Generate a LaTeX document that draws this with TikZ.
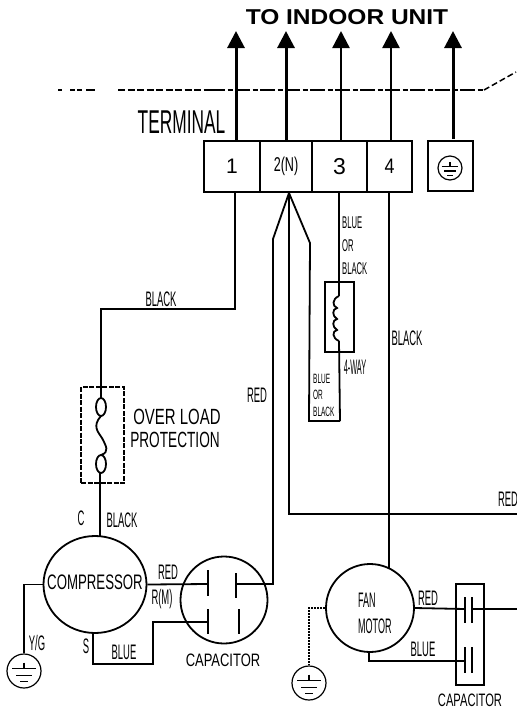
\documentclass[tikz,border=0pt]{standalone}
\usepackage{fontspec}
\usepackage{graphicx}
\setsansfont{Liberation Sans}
\usetikzlibrary{arrows.meta,shapes.geometric}

\newcommand{\tg}[1]{\scalebox{.45}[1]{#1}}
\newcommand{\nar}[2]{\scalebox{#1}[1]{#2}}
\newcommand{\earthmark}[2]{%
  \draw[shift={(#1)},scale=#2,line width=1.3pt] (0,-.5) -- (0,-.15)
    (-.7,-.15) -- (.7,-.15) (-.47,.25) -- (.47,.25) (-.22,.63) -- (.22,.63);}

\tikzset{
  wire/.style={line width=1.8pt},
  fatwire/.style={line width=3pt},
  plate/.style={line width=1.8pt},
  termbox/.style={draw,line width=1.8pt,minimum height=51pt,inner sep=0pt,font=\sffamily},
  earthring/.style={draw,circle,line width=1.2pt,inner sep=0pt},
  part/.style={draw,line width=1.8pt,inner sep=0pt},
  tag/.style={inner sep=0pt,font=\sffamily\fontsize{21}{23}\selectfont},
  tinytag/.style={inner sep=0pt,font=\sffamily\fontsize{13.5}{16.5}\selectfont,align=left,anchor=west},
  midtag/.style={inner sep=0pt,font=\sffamily\fontsize{17}{23}\selectfont,align=left,anchor=west},
  uptip/.style={-{Triangle[length=17pt,width=17pt]}},
}

\begin{document}
\begin{tikzpicture}[x=1pt,y=-1pt]
    \useasboundingbox (0,0) rectangle (517,713);
    \clip (0,0) rectangle (517,713);

    % terminal block and ground box
    \node[termbox,minimum width=56pt] (term1) at (232,166.5) {\fontsize{21}{21}\selectfont 1};
    \node[termbox,minimum width=52pt] (term2) at (286,166.5) {\fontsize{20}{20}\selectfont\nar{.63}{2(N)}};
    \node[termbox,minimum width=55pt] (term3) at (339.5,166.5) {\fontsize{23}{23}\selectfont 3};
    \node[termbox,minimum width=45pt] (term4) at (389.5,166.5) {\fontsize{21}{21}\selectfont\nar{.85}{4}};
    \node[termbox,minimum width=45pt,minimum height=50pt] (termg) at (450.5,166) {};
    \node[earthring,minimum size=24pt] (earthg) at (450,168) {};
    \earthmark{earthg}{12}

    % these are the parts
    \node[part,ellipse,minimum width=103pt,minimum height=97pt] (comp) at (95,584.5) {};
    \node[part,circle,minimum size=87pt] (cap1) at (224,600) {};
    \node[part,circle,minimum size=88pt] (fan) at (370,608) {};
    \node[part,minimum width=28pt,minimum height=101pt] (cap2) at (470,634.5) {};
    \node[part,minimum width=29pt,minimum height=70pt] (valve) at (339.5,317) {};
    \node[draw,dash pattern=on 5pt off 1.5pt,line width=1.4pt,minimum width=43pt,minimum height=96pt,inner sep=0pt] (olp) at (102.5,435) {};
    \node[earthring,minimum size=34pt] (earthc) at (24,671) {};
    \node[earthring,minimum size=34pt] (earthf) at (309,683) {};
    \earthmark{earthc}{17}
    \earthmark{earthf}{17}

    % these are the wire ends
    \coordinate (a1) at (236,31);
    \coordinate (a2) at (286,31);
    \coordinate (a3) at (341,31);
    \coordinate (a4) at (391,31);
    \coordinate (ag) at (453,31);
    \coordinate (b1) at (236,141);
    \coordinate (b2) at (286,141);
    \coordinate (b3) at (341,141);
    \coordinate (b4) at (391,141);
    \coordinate (bg) at (453,139);
    \coordinate (s1) at (235,192);
    \coordinate (s2) at (289,193);
    \coordinate (s3) at (339,192);
    \coordinate (s4) at (389,192);
    \coordinate (bendr) at (273,239);
    \coordinate (bendb) at (310,243);
    \coordinate (bendc) at (309,421);
    \coordinate (valvetop) at (339,296);
    \coordinate (valvebot) at (339,341);
    \coordinate (valveout) at (340,421);
    \coordinate (olpin) at (101,398);
    \coordinate (olpout) at (100,473);
    \coordinate (comptop) at (100,536);
    \coordinate (compbot) at (93,633);
    \coordinate (fantop) at (389,568);
    \coordinate (fanbot) at (369,652);
    \coordinate (rail) at (517,514);
    \coordinate (capa) at (208,584);
    \coordinate (capb) at (236,584);
    \coordinate (capc) at (208,622);
    \coordinate (capd) at (239,622);
    \coordinate (fana) at (465,609);
    \coordinate (fanb) at (472,609);
    \coordinate (fanc) at (465,661);
    \coordinate (fand) at (472,661);
    \coordinate (fanout) at (517,609);

    % dashed line
    \draw[line width=1.5pt] (58,90) -- (62,90) (70,90) -- (75,90) (77,90) -- (82,90) (86,90) -- (95,90);
    \draw[line width=1.6pt,dash pattern=on 7pt off 2.5pt] (118,90) -- (210,90);
    \draw[line width=1.8pt,dash pattern=on 15pt off 2.5pt on 5pt off 2.5pt] (210,90) -- (484,90);
    \draw[line width=1.5pt,dash pattern=on 6pt off 3pt] (484,90) -- (516,72);

    % arrows up to the indoor unit
    \draw[fatwire,uptip] (b1) -- (a1);
    \draw[fatwire,uptip] (b2) -- (a2);
    \draw[line width=2.3pt,uptip] (b3) -- (a3);
    \draw[line width=2.3pt,uptip] (b4) -- (a4);
    \draw[fatwire,uptip] (bg) -- (ag);

    % wires
    \draw[wire] (s1) |- (101,309) -- (olpin);
    \draw[wire] (olpout) -- (comptop);
    \draw[wire] (s2) -- (bendr) -- (273,584) -- (capb);
    \draw[wire] (s2) |- (rail);
    \draw[wire] (s2) -- (bendb) -- (bendc) -- (valveout);
    \draw[wire] (s3) -- (valvetop);
    \draw[wire] (valvebot) -- (valveout);
    \draw[wire] (s4) -- (fantop);
    \draw[wire] (comp.east) -- (capa);
    \draw[wire] (compbot) -- (93,664) -| (153,622) -- (capc);
    \draw[wire] (comp.west) -| (earthc.north);
    \draw[wire] (fan.east) -- (fana);
    \draw[wire] (fanb) -- (fanout);
    \draw[wire] (fanbot) -- (369,661) -- (fanc);
    \draw[line width=2pt,densely dotted] (fan.west) -| (earthf.north);

    % capacitor plates
    \draw[line width=2.2pt] (capa) ++(0,-14) -- ++(0,26);
    \draw[line width=2.8pt] (capb) ++(0,-11) -- ++(0,25);
    \draw[plate] (capc) ++(0,-13) -- ++(0,25);
    \draw[plate] (capd) ++(0,-13) -- ++(0,25);
    \draw[plate] (fana) ++(0,-12) -- ++(0,26);
    \draw[plate] (fanb) ++(0,-12) -- ++(0,26);
    \draw[plate] (fanc) ++(0,-14) -- ++(0,26);
    \draw[plate] (fand) ++(0,-14) -- ++(0,26);

    % overload element
    \draw[wire] (101,407) ellipse (5 and 9);
    \draw[wire] (101,464) ellipse (5 and 9);
    \draw[wire] (101,416) .. controls (92,426) and (98,432) .. (102,438) .. controls (106,446) and (110,452) .. (101,455);

    % valve coil
    \draw[wire] (valvetop) .. controls (332,299) and (332,306) .. (337,308)
       .. controls (332,309) and (332,316) .. (337,319)
       .. controls (332,320) and (332,327) .. (337,330)
       .. controls (332,331) and (332,338) .. (valvebot);

    % these are the labels
    \node[tag,font=\sffamily\bfseries\fontsize{21.5}{22}\selectfont] (title) at (347,17) {\nar{1.14}{TO INDOOR UNIT}};
    \node[tag,font=\sffamily\fontsize{33}{33}\selectfont] (lblterm) at (181.5,122) {\nar{.525}{TERMINAL}};
    \node[tag] (lblcomp) at (95,582) {\nar{.63}{COMPRESSOR}};
    \node[tag] (lbl1) at (161,299) {\tg{BLACK}};
    \node[tag] (lbl2) at (257,395) {\tg{RED}};
    \node[tag] (lbl3) at (407,338) {\tg{BLACK}};
    \node[tag] (lbl4) at (508,499) {\tg{RED}};
    \node[midtag] (lbl5) at (342,246) {\nar{.45}{BLUE}\\\nar{.45}{OR}\\\nar{.45}{BLACK}};
    \node[tinytag] (lbl6) at (313,395) {\nar{.48}{BLUE}\\\nar{.48}{OR}\\\nar{.48}{BLACK}};
    \node[tag] (lbl7) at (355,367) {\nar{.35}{4-WAY}};
    \node[tag,font=\sffamily\fontsize{22}{24}\selectfont] (lbl8) at (177,417) {\nar{.68}{OVER LOAD}};
    \node[tag,font=\sffamily\fontsize{22}{24}\selectfont] (lbl9) at (175,440) {\nar{.62}{PROTECTION}};
    \node[tag] (lbl10) at (81,518) {\tg{C}};
    \node[tag] (lbl11) at (122,520) {\tg{BLACK}};
    \node[tag] (lbl12) at (168,572) {\tg{RED}};
    \node[tag] (lbl13) at (162,599) {\tg{R(M)}};
    \node[tag] (lbl14) at (86,646) {\tg{S}};
    \node[tag] (lbl15) at (124,652) {\tg{BLUE}};
    \node[tag] (lbl16) at (37,643) {\tg{Y/G}};
    \node[tag,font=\sffamily\fontsize{18}{20}\selectfont] (lbl17) at (223,660) {\nar{.72}{CAPACITOR}};
    \node[tag,anchor=west,align=left,font=\sffamily\fontsize{21}{26}\selectfont] (lbl18) at (358,613) {\nar{.43}{FAN}\\\nar{.43}{MOTOR}};
    \node[tag] (lbl19) at (428,598) {\tg{RED}};
    \node[tag] (lbl20) at (423,649) {\tg{BLUE}};
    \node[tag,font=\sffamily\fontsize{18}{20}\selectfont] (lbl21) at (470,700) {\nar{.62}{CAPACITOR}};

\end{tikzpicture}
\end{document}
